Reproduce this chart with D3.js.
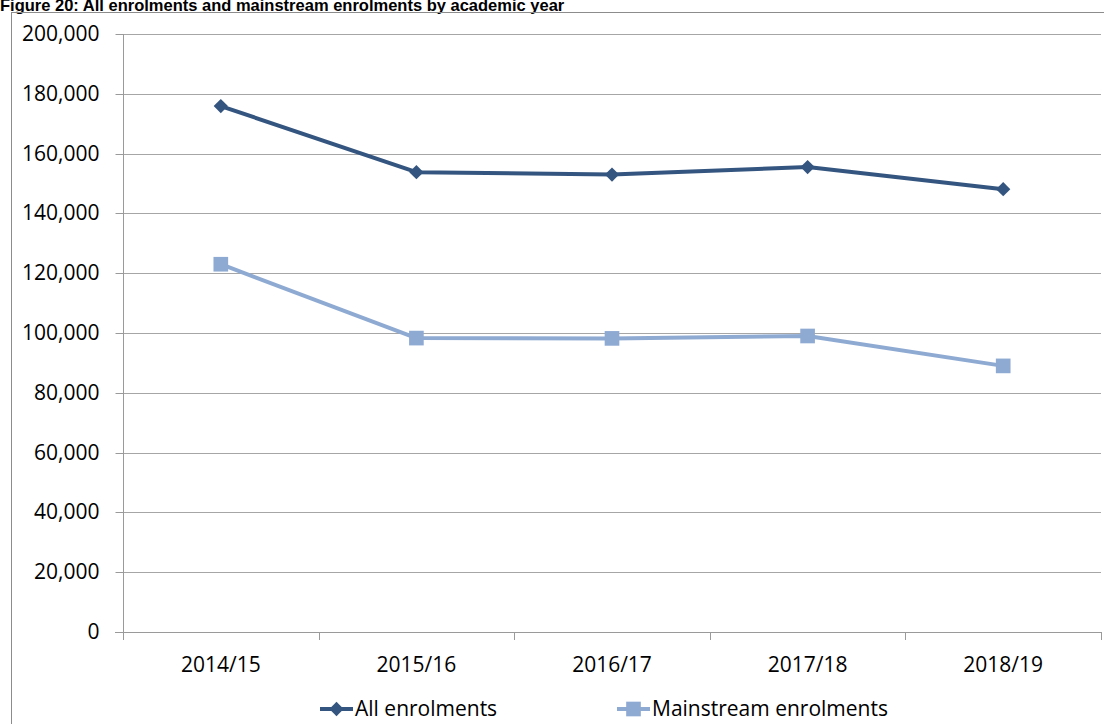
<!DOCTYPE html>
<html>
<head>
<meta charset="utf-8">
<script src="https://cdn.jsdelivr.net/npm/d3@7"></script>
<style>
  body { margin: 0; background: #fff; }
  svg { display: block; }
  .tick text { font-family: "Open Sans", sans-serif; font-size: 21px; fill: #000; }
</style>
</head>
<body>
<svg id="chart"></svg>
<script>
// chart data
const years = ["2014/15", "2015/16", "2016/17", "2017/18", "2018/19"];
const allEnrolments = [175900, 153800, 153000, 155500, 148100];
const mainstreamEnrolments = [123000, 98300, 98200, 99000, 89000];
const yTicks = [0, 20000, 40000, 60000, 80000, 100000, 120000, 140000, 160000, 180000, 200000];

const w = 1104, h = 724;
const plotLeft = 123, plotRight = 1101, plotTop = 34, plotBottom = 632;
const darkBlue = "#34557f", lightBlue = "#8eaad3";

let svg = d3.select("#chart").attr("width", w).attr("height", h);

// title (cut off at top like the source)
svg.append("text")
    .attr("x", 0).attr("y", 11)
    .attr("font-family", "Liberation Sans, Arial, sans-serif")
    .attr("font-weight", "bold")
    .attr("font-size", 16.5)
    .text("Figure 20: All enrolments and mainstream enrolments by academic year");

// outer frame
svg.append("rect")
    .attr("x", 11.5).attr("y", 12.5)
    .attr("width", w + 10).attr("height", h + 10)
    .attr("fill", "none").attr("stroke", "#8c8c8c");

let x = d3.scaleBand().domain(years).range([plotLeft, plotRight]);
let y = d3.scaleLinear().domain([0, 200000]).range([plotBottom, plotTop]);

// gridlines
svg.append("g")
    .selectAll("line")
    .data(yTicks.filter(d => d > 0))
    .enter()
    .append("line")
    .attr("x1", plotLeft).attr("x2", plotRight)
    .attr("y1", d => Math.round(y(d)) + 0.5)
    .attr("y2", d => Math.round(y(d)) + 0.5)
    .attr("stroke", "#a6a6a6").attr("stroke-width", 1.2);

// y axis
let yAxis = svg.append("g")
    .attr("transform", `translate(${plotLeft + 0.5},0)`)
    .call(d3.axisLeft(y).tickValues(yTicks).tickFormat(d3.format(",")).tickSize(8).tickPadding(16));
yAxis.select(".domain").attr("d", `M0,${plotTop}V${plotBottom + 8}`).attr("stroke", "#9a9a9a");
yAxis.selectAll(".tick line").attr("stroke", "#9a9a9a");
yAxis.selectAll(".tick").attr("transform", d => `translate(0,${Math.round(y(d)) + 0.5})`);

// x axis
let xAxis = svg.append("g")
    .attr("transform", `translate(0,${plotBottom + 0.5})`)
    .call(d3.axisBottom(x).tickSize(0).tickPadding(25));
xAxis.select(".domain").attr("d", `M${plotLeft - 8},0H${plotRight}`).attr("stroke", "#9a9a9a");

// category boundary ticks
svg.append("g")
    .selectAll("line")
    .data(years)
    .enter()
    .append("line")
    .attr("x1", d => Math.round(x(d) + x.bandwidth()) + 0.5)
    .attr("x2", d => Math.round(x(d) + x.bandwidth()) + 0.5)
    .attr("y1", plotBottom).attr("y2", plotBottom + 8)
    .attr("stroke", "#9a9a9a");

const cx = d => x(d) + x.bandwidth() / 2;
let line = d3.line().x((d, i) => cx(years[i])).y(d => y(d));

// series lines
svg.append("path").datum(allEnrolments)
    .attr("d", line).attr("fill", "none")
    .attr("stroke", darkBlue).attr("stroke-width", 4).attr("stroke-linejoin", "round");
svg.append("path").datum(mainstreamEnrolments)
    .attr("d", line).attr("fill", "none")
    .attr("stroke", lightBlue).attr("stroke-width", 4).attr("stroke-linejoin", "round");

// markers
let diamond = d3.symbol().type(d3.symbolDiamond2).size(130);
let square = d3.symbol().type(d3.symbolSquare).size(215);

svg.append("g").selectAll("path")
    .data(allEnrolments).enter().append("path")
    .attr("d", diamond)
    .attr("transform", (d, i) => `translate(${cx(years[i])},${y(d)})`)
    .attr("fill", darkBlue);

svg.append("g").selectAll("path")
    .data(mainstreamEnrolments).enter().append("path")
    .attr("d", square)
    .attr("transform", (d, i) => `translate(${cx(years[i])},${y(d)})`)
    .attr("fill", lightBlue);

// legend
const legendY = 709;
const legend = [
    { name: "All enrolments", color: darkBlue, sym: diamond, x: 320 },
    { name: "Mainstream enrolments", color: lightBlue, sym: square, x: 617 }
];
let lg = svg.append("g").selectAll("g").data(legend).enter().append("g")
    .attr("transform", d => `translate(${d.x},${legendY})`);
lg.append("line").attr("x1", 0).attr("x2", 33).attr("y1", 0).attr("y2", 0)
    .attr("stroke", d => d.color).attr("stroke-width", 4);
lg.append("path").attr("d", d => d.sym()).attr("transform", "translate(16.5,0)")
    .attr("fill", d => d.color);
lg.append("text").attr("x", 35).attr("y", 0).attr("dy", "0.35em")
    .attr("font-family", "Open Sans, sans-serif").attr("font-size", 21)
    .text(d => d.name);
</script>
</body>
</html>
